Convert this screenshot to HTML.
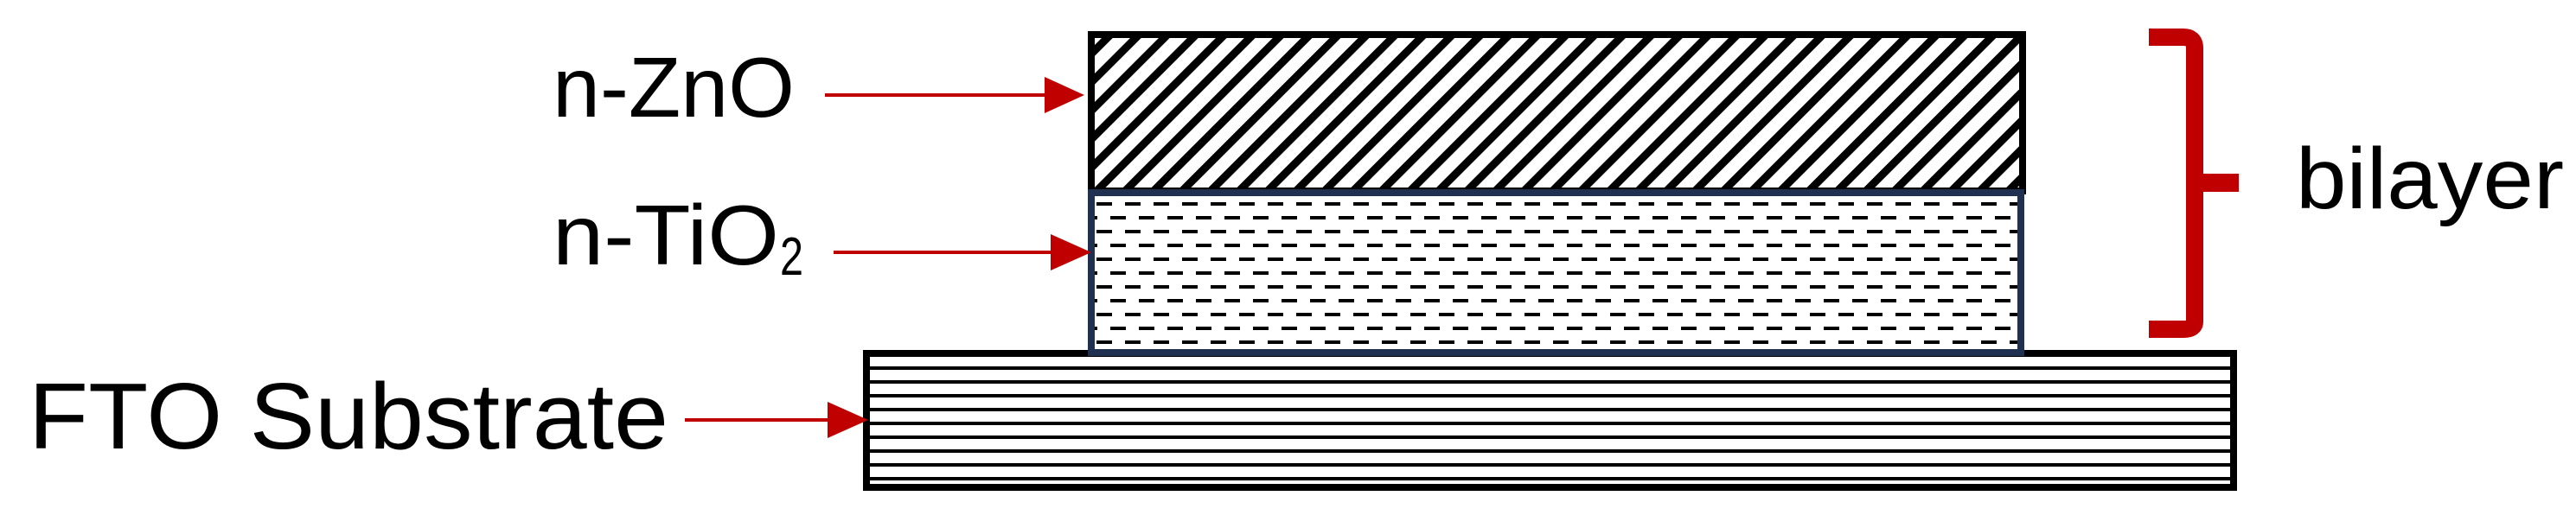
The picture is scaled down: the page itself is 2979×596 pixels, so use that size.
<!DOCTYPE html>
<html><head><meta charset="utf-8"><style>html,body{margin:0;padding:0;background:#fff}svg{display:block}</style></head>
<body>
<svg width="2979" height="596" viewBox="0 0 2979 596" xmlns="http://www.w3.org/2000/svg">
<defs>
<pattern id="diag" patternUnits="userSpaceOnUse" width="23.3" height="23.3" patternTransform="rotate(45)">
<rect x="0" y="0" width="9" height="23.3" fill="#000"/>
</pattern>
<pattern id="dash" patternUnits="userSpaceOnUse" x="1266" y="234" width="66" height="32">
<rect x="2" y="0" width="18" height="4" fill="#000"/>
<rect x="35" y="0" width="18" height="4" fill="#000"/>
<rect x="18" y="16" width="18" height="4" fill="#000"/>
<rect x="51" y="16" width="18" height="4" fill="#000"/>
<rect x="-15" y="16" width="18" height="4" fill="#000"/>
</pattern>
<pattern id="horiz" patternUnits="userSpaceOnUse" x="0" y="424" width="20" height="16">
<rect x="0" y="0" width="20" height="4" fill="#000"/>
</pattern>
</defs>
<!-- FTO -->
<rect x="1002" y="409" width="1581" height="155" fill="url(#horiz)" stroke="#000" stroke-width="8"/>
<!-- TiO2 -->
<rect x="1262" y="223" width="1075" height="185" fill="#fff"/>
<rect x="1262" y="223" width="1075" height="185" fill="url(#dash)" stroke="#1f3050" stroke-width="8"/>
<!-- ZnO -->
<rect x="1262" y="40" width="1077" height="181" fill="url(#diag)" stroke="#000" stroke-width="8"/>
<rect x="1258" y="219" width="1083" height="8" fill="#1f3050"/>
<!-- bracket -->
<path d="M2485 43 L2525 43 Q2538 43 2538 56 L2538 372 Q2538 381 2525 381 L2485 381" fill="none" stroke="#c00000" stroke-width="20"/>
<rect x="2538" y="201" width="51" height="21" fill="#c00000"/>
<!-- arrows -->
<g fill="#c00000">
<rect x="954" y="108" width="256" height="4"/>
<polygon points="1208,89 1254,110 1208,131"/>
<rect x="964" y="290" width="253" height="4"/>
<polygon points="1215,271 1262,292 1215,313"/>
<rect x="792" y="484" width="167" height="4"/>
<polygon points="957,465 1004,486 957,507"/>
</g>
<g font-family="'Liberation Sans Narrow','Liberation Sans',sans-serif" fill="#000">
<text x="639" y="135" font-size="98" textLength="280" lengthAdjust="spacingAndGlyphs">n-ZnO</text>
<text x="639" y="306" font-size="98" textLength="262" lengthAdjust="spacingAndGlyphs">n-TiO</text>
<text x="902" y="318" font-size="62" textLength="27" lengthAdjust="spacingAndGlyphs">2</text>
<text x="33" y="519" font-size="109" textLength="740" lengthAdjust="spacingAndGlyphs">FTO Substrate</text>
<text x="2655" y="241" font-size="100" textLength="310" lengthAdjust="spacingAndGlyphs">bilayer</text>
</g>
</svg>
</body></html>
